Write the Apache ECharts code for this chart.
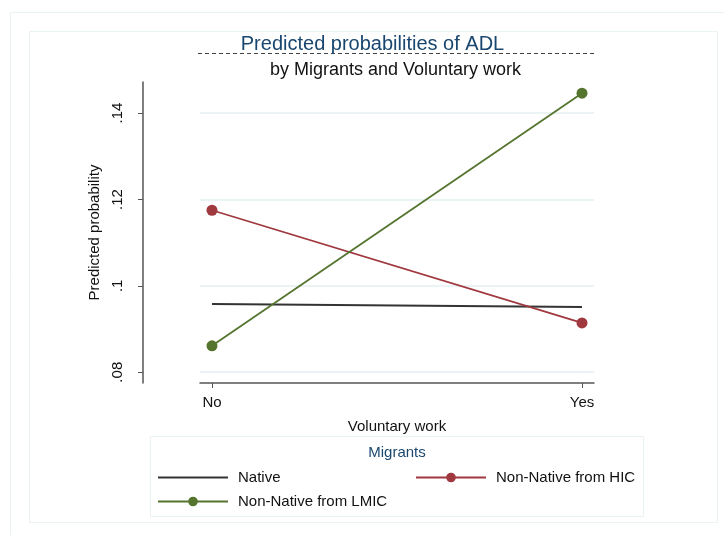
<!DOCTYPE html>
<html><head><meta charset="utf-8">
<script src="https://cdn.jsdelivr.net/npm/echarts@6/dist/echarts.min.js"></script>
<style>html,body{margin:0;padding:0;background:#fff}#c{width:724px;height:535px}</style>
</head><body><div id="c"></div>
<script>
const categories = ['No', 'Yes'];
const xPositions = [0, 1];
const native = [0.0958, 0.0951];
const hic = [0.1175, 0.0914];
const lmic = [0.0861, 0.1446];
const yTicks = [0.08, 0.10, 0.12, 0.14];
const yTickLabels = ['.08', '.1', '.12', '.14'];

const FONT = 'Liberation Sans, Arial, sans-serif';
const pair = arr => arr.map((v, i) => [xPositions[i], v]);

const chart = echarts.init(document.getElementById('c'));
chart.setOption({
  animation: false,
  backgroundColor: '#fff',
  textStyle: { fontFamily: FONT },
  graphic: [
    { type: 'rect', shape: { x: 10.5, y: 12.5, width: 730, height: 540 }, style: { fill: 'none', stroke: '#eaf2f2', lineWidth: 1 } },
    { type: 'rect', shape: { x: 29.5, y: 31.5, width: 688, height: 491 }, style: { fill: 'none', stroke: '#eaf2f2', lineWidth: 1 } },
    { type: 'rect', shape: { x: 150.5, y: 436.5, width: 493, height: 80 }, style: { fill: 'none', stroke: '#eaf2f2', lineWidth: 1 } },
    { type: 'line', shape: { x1: 198, y1: 53.5, x2: 594, y2: 53.5 }, style: { stroke: '#444', lineWidth: 1, lineDash: [4, 3] } },
    { type: 'text', x: 372.5, y: 44, style: { text: 'Predicted probabilities of ADL', fill: '#1a476f', font: '20px ' + FONT, align: 'center', verticalAlign: 'middle' } },
    { type: 'text', x: 395.5, y: 70, style: { text: 'by Migrants and Voluntary work', fill: '#111', font: '18px ' + FONT, align: 'center', verticalAlign: 'middle' } },
    { type: 'text', x: 397, y: 453, style: { text: 'Migrants', fill: '#1a476f', font: '15px ' + FONT, align: 'center', verticalAlign: 'middle' } }
  ],
  grid: { left: 200, right: 130, top: 82, bottom: 152, containLabel: false },
  xAxis: {
    type: 'value', min: -0.0324, max: 1.0324,
    name: 'Voluntary work', nameLocation: 'middle', nameGap: 36,
    nameTextStyle: { color: '#111', fontSize: 15, fontFamily: FONT },
    axisLine: { onZero: false, lineStyle: { color: '#555', width: 1.5 } },
    axisTick: { show: true, length: 5, customValues: xPositions, lineStyle: { color: '#555' } },
    axisLabel: { customValues: xPositions, formatter: v => categories[Math.round(v)], color: '#111', fontSize: 15, margin: 12, fontFamily: FONT },
    splitLine: { show: false }
  },
  yAxis: {
    type: 'value', min: 0.0775, max: 0.1472, offset: 57,
    name: 'Predicted probability', nameLocation: 'middle', nameGap: 35,
    nameTextStyle: { color: '#111', fontSize: 15, fontFamily: FONT },
    axisLine: { show: true, onZero: false, lineStyle: { color: '#555', width: 1.5 } },
    axisTick: { show: true, length: 5, customValues: yTicks, lineStyle: { color: '#555' } },
    axisLabel: { customValues: yTicks, rotate: 90, formatter: v => yTickLabels[yTicks.findIndex(t => Math.abs(t - v) < 1e-6)], color: '#111', fontSize: 15, margin: 18, fontFamily: FONT },
    splitLine: { show: true, lineStyle: { color: '#e6eff1', width: 1.5 } }
  },
  legend: [
    { left: 157, top: 470, padding: 0, orient: 'vertical', itemWidth: 70, itemHeight: 12, itemGap: 9,
      data: [{ name: 'Native', itemStyle: { opacity: 0 } }, 'Non-Native from LMIC'], textStyle: { fontSize: 15, color: '#111', fontFamily: FONT, padding: [0, 0, 0, 5] } },
    { left: 415, top: 470, padding: 0, orient: 'vertical', itemWidth: 70, itemHeight: 12,
      data: ['Non-Native from HIC'], textStyle: { fontSize: 15, color: '#111', fontFamily: FONT, padding: [0, 0, 0, 5] } }
  ],
  series: [
    { name: 'Native', type: 'line', data: pair(native), symbol: 'none', lineStyle: { color: '#333', width: 2 }, itemStyle: { color: '#333' } },
    { name: 'Non-Native from HIC', type: 'line', data: pair(hic), symbol: 'circle', symbolSize: 11, lineStyle: { color: '#a0393f', width: 1.8 }, itemStyle: { color: '#a0393f' } },
    { name: 'Non-Native from LMIC', type: 'line', data: pair(lmic), symbol: 'circle', symbolSize: 11, lineStyle: { color: '#55752f', width: 1.8 }, itemStyle: { color: '#55752f' } }
  ]
});
</script></body></html>
